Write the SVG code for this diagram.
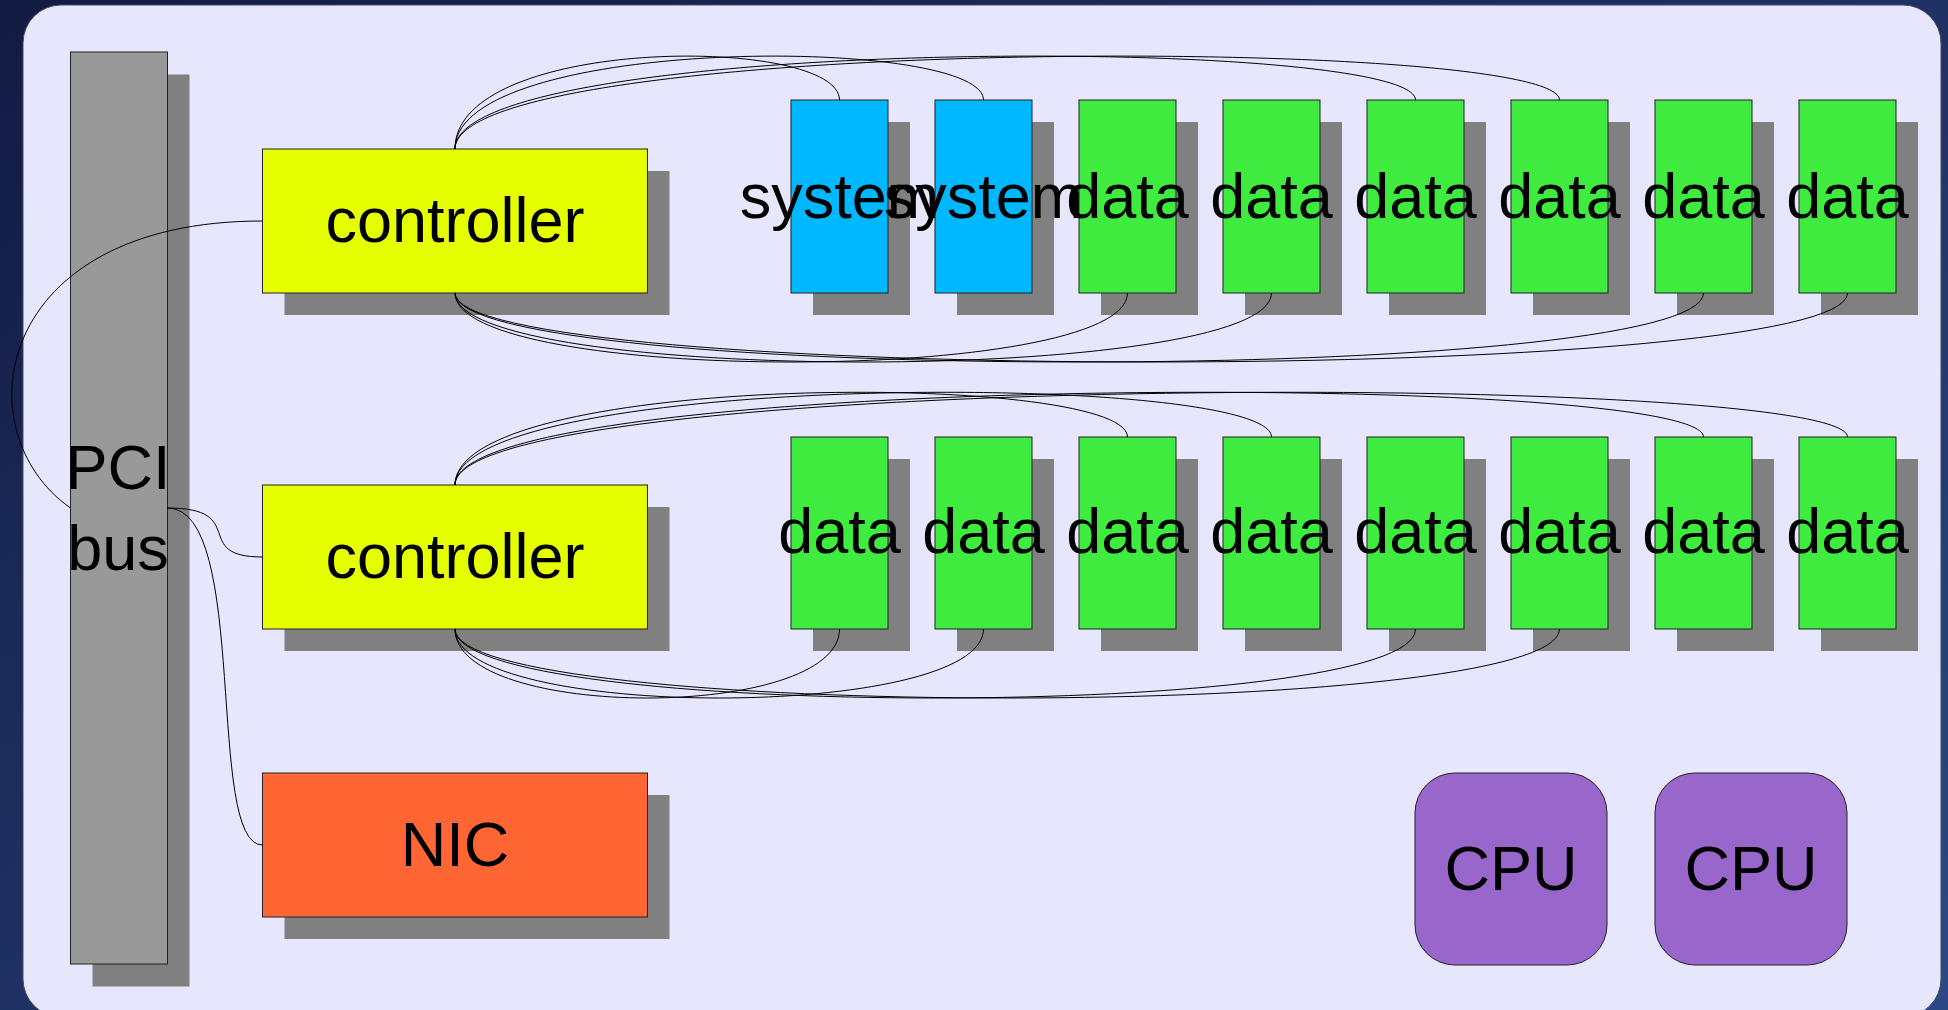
<svg xmlns="http://www.w3.org/2000/svg" width="1948" height="1010" viewBox="0 0 1948 1010">
  <defs>
    <linearGradient id="bg" x1="0" y1="0" x2="1" y2="1">
      <stop offset="0" stop-color="#121b42"/>
      <stop offset="1" stop-color="#2c4884"/>
    </linearGradient>
  </defs>
  <style>
    .shadow { fill: #808080; }
    .box { stroke: #222; stroke-width: 1; }
    .pci { fill: #999999; }
    .ctrl { fill: #e5ff00; }
    .nic { fill: #ff6633; }
    .sys { fill: #00b8ff; }
    .data { fill: #3eeb3e; }
    .cpu { fill: #9966cc; }
    .label { font-family: "Liberation Sans", Arial, sans-serif; font-size: 63px; fill: #000; text-anchor: middle; }
    .wire { fill: none; stroke: #000; stroke-width: 1; }
  </style>

  <!-- backdrop and machine panel -->
  <rect x="0" y="0" width="1948" height="1010" fill="url(#bg)"/>
  <rect x="23" y="5" width="1918" height="1012" rx="38" ry="38" fill="#e6e6fc" stroke="#4a4a66" stroke-width="1"/>

  <!-- PCI bus -->
  <g id="pci-bus">
    <rect class="shadow" x="92.5" y="74.5" width="97" height="912"/>
    <rect class="pci box" x="70.5" y="52" width="97" height="912"/>
    <text class="label" x="118" y="489">PCI</text>
    <text class="label" x="118" y="570">bus</text>
  </g>

  <!-- controllers and NIC -->
  <g id="controller-1">
    <rect class="shadow" x="284.5" y="171" width="385" height="144"/>
    <rect class="ctrl box" x="262.5" y="149" width="385" height="144"/>
    <text class="label" x="455" y="242">controller</text>
  </g>
  <g id="controller-2">
    <rect class="shadow" x="284.5" y="507" width="385" height="144"/>
    <rect class="ctrl box" x="262.5" y="485" width="385" height="144"/>
    <text class="label" x="455" y="578">controller</text>
  </g>
  <g id="nic">
    <rect class="shadow" x="284.5" y="795" width="385" height="144"/>
    <rect class="nic box" x="262.5" y="773" width="385" height="144"/>
    <text class="label" x="455" y="866">NIC</text>
  </g>

  <!-- disks on controller 1 -->
  <g id="disk-1-1">
    <rect class="shadow" x="813" y="122" width="97" height="193"/>
    <rect class="sys box" x="791" y="100" width="97" height="193"/>
    <text class="label" x="839.5" y="218">system</text>
  </g>
  <g id="disk-1-2">
    <rect class="shadow" x="957" y="122" width="97" height="193"/>
    <rect class="sys box" x="935" y="100" width="97" height="193"/>
    <text class="label" x="983.5" y="218">system</text>
  </g>
  <g id="disk-1-3">
    <rect class="shadow" x="1101" y="122" width="97" height="193"/>
    <rect class="data box" x="1079" y="100" width="97" height="193"/>
    <text class="label" x="1127.5" y="218">data</text>
  </g>
  <g id="disk-1-4">
    <rect class="shadow" x="1245" y="122" width="97" height="193"/>
    <rect class="data box" x="1223" y="100" width="97" height="193"/>
    <text class="label" x="1271.5" y="218">data</text>
  </g>
  <g id="disk-1-5">
    <rect class="shadow" x="1389" y="122" width="97" height="193"/>
    <rect class="data box" x="1367" y="100" width="97" height="193"/>
    <text class="label" x="1415.5" y="218">data</text>
  </g>
  <g id="disk-1-6">
    <rect class="shadow" x="1533" y="122" width="97" height="193"/>
    <rect class="data box" x="1511" y="100" width="97" height="193"/>
    <text class="label" x="1559.5" y="218">data</text>
  </g>
  <g id="disk-1-7">
    <rect class="shadow" x="1677" y="122" width="97" height="193"/>
    <rect class="data box" x="1655" y="100" width="97" height="193"/>
    <text class="label" x="1703.5" y="218">data</text>
  </g>
  <g id="disk-1-8">
    <rect class="shadow" x="1821" y="122" width="97" height="193"/>
    <rect class="data box" x="1799" y="100" width="97" height="193"/>
    <text class="label" x="1847.5" y="218">data</text>
  </g>

  <!-- disks on controller 2 -->
  <g id="disk-2-1">
    <rect class="shadow" x="813" y="459" width="97" height="192"/>
    <rect class="data box" x="791" y="437" width="97" height="192"/>
    <text class="label" x="839.5" y="553">data</text>
  </g>
  <g id="disk-2-2">
    <rect class="shadow" x="957" y="459" width="97" height="192"/>
    <rect class="data box" x="935" y="437" width="97" height="192"/>
    <text class="label" x="983.5" y="553">data</text>
  </g>
  <g id="disk-2-3">
    <rect class="shadow" x="1101" y="459" width="97" height="192"/>
    <rect class="data box" x="1079" y="437" width="97" height="192"/>
    <text class="label" x="1127.5" y="553">data</text>
  </g>
  <g id="disk-2-4">
    <rect class="shadow" x="1245" y="459" width="97" height="192"/>
    <rect class="data box" x="1223" y="437" width="97" height="192"/>
    <text class="label" x="1271.5" y="553">data</text>
  </g>
  <g id="disk-2-5">
    <rect class="shadow" x="1389" y="459" width="97" height="192"/>
    <rect class="data box" x="1367" y="437" width="97" height="192"/>
    <text class="label" x="1415.5" y="553">data</text>
  </g>
  <g id="disk-2-6">
    <rect class="shadow" x="1533" y="459" width="97" height="192"/>
    <rect class="data box" x="1511" y="437" width="97" height="192"/>
    <text class="label" x="1559.5" y="553">data</text>
  </g>
  <g id="disk-2-7">
    <rect class="shadow" x="1677" y="459" width="97" height="192"/>
    <rect class="data box" x="1655" y="437" width="97" height="192"/>
    <text class="label" x="1703.5" y="553">data</text>
  </g>
  <g id="disk-2-8">
    <rect class="shadow" x="1821" y="459" width="97" height="192"/>
    <rect class="data box" x="1799" y="437" width="97" height="192"/>
    <text class="label" x="1847.5" y="553">data</text>
  </g>

  <!-- processors -->
  <g id="cpu-1">
    <rect class="cpu box" x="1415" y="773" width="192" height="192" rx="40" ry="40"/>
    <text class="label" x="1511" y="890">CPU</text>
  </g>
  <g id="cpu-2">
    <rect class="cpu box" x="1655" y="773" width="192" height="192" rx="40" ry="40"/>
    <text class="label" x="1751" y="890">CPU</text>
  </g>

  <!-- cabling -->
  <g id="connectors">
    <!-- PCI bus to cards -->
    <path class="wire" d="M262.5,221 C-8,221 -38,432 70.5,508"/>
    <path class="wire" d="M167.5,508 C250,508 190,557 262.5,557"/>
    <path class="wire" d="M167.5,508 C250,508 205,845 262.5,845"/>

    <!-- controller 1, top side -->
    <path class="wire" d="M455,149 C455,35 839.5,35 839.5,100"/>
    <path class="wire" d="M455,149 C455,35 983.5,35 983.5,100"/>
    <path class="wire" d="M455,149 C455,35 1415.5,35 1415.5,100"/>
    <path class="wire" d="M455,149 C455,35 1559.5,35 1559.5,100"/>
    <!-- controller 1, bottom side -->
    <path class="wire" d="M455,293 C455,385 1127.5,385 1127.5,293"/>
    <path class="wire" d="M455,293 C455,385 1271.5,385 1271.5,293"/>
    <path class="wire" d="M455,293 C455,385 1703.5,385 1703.5,293"/>
    <path class="wire" d="M455,293 C455,385 1847.5,385 1847.5,293"/>

    <!-- controller 2, top side -->
    <path class="wire" d="M455,485 C455,371 1127.5,371 1127.5,437"/>
    <path class="wire" d="M455,485 C455,371 1271.5,371 1271.5,437"/>
    <path class="wire" d="M455,485 C455,371 1703.5,371 1703.5,437"/>
    <path class="wire" d="M455,485 C455,371 1847.5,371 1847.5,437"/>
    <!-- controller 2, bottom side -->
    <path class="wire" d="M455,629 C455,721 839.5,721 839.5,629"/>
    <path class="wire" d="M455,629 C455,721 983.5,721 983.5,629"/>
    <path class="wire" d="M455,629 C455,721 1415.5,721 1415.5,629"/>
    <path class="wire" d="M455,629 C455,721 1559.5,721 1559.5,629"/>
  </g>
</svg>
